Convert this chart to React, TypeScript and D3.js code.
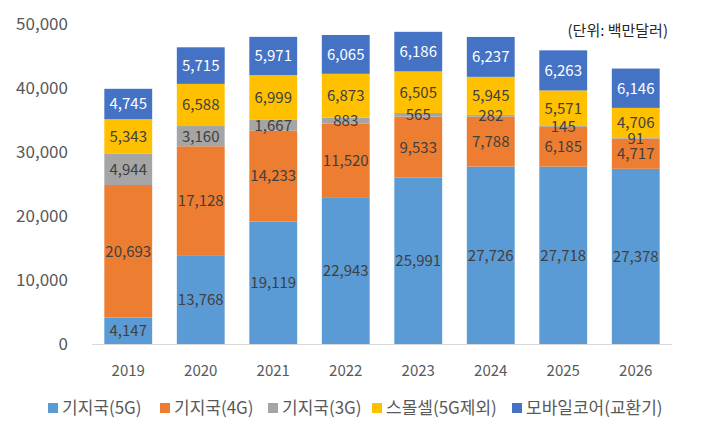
import React from 'react';
import * as d3 from 'd3';

const years = ['2019', '2020', '2021', '2022', '2023', '2024', '2025', '2026'];
const bs5g = [4147, 13768, 19119, 22943, 25991, 27726, 27718, 27378];
const bs4g = [20693, 17128, 14233, 11520, 9533, 7788, 6185, 4717];
const bs3g = [4944, 3160, 1667, 883, 565, 282, 145, 91];
const smallCell = [5343, 6588, 6999, 6873, 6505, 5945, 5571, 4706];
const mobileCore = [4745, 5715, 5971, 6065, 6186, 6237, 6263, 6146];
const yTicks = [0, 10000, 20000, 30000, 40000, 50000];

const SERIES = [
  { name: '기지국(5G)', values: bs5g, color: '#5B9BD5', text: '#404040' },
  { name: '기지국(4G)', values: bs4g, color: '#ED7D31', text: '#404040' },
  { name: '기지국(3G)', values: bs3g, color: '#A5A5A5', text: '#404040' },
  { name: '스몰셀(5G제외)', values: smallCell, color: '#FFC000', text: '#404040' },
  { name: '모바일코어(교환기)', values: mobileCore, color: '#4472C4', text: '#FFFFFF' },
];

const FONT = '"Noto Sans CJK KR", "Noto Sans", sans-serif';

export default function App() {
  const width = 704;
  const height = 430;
  const left = 92;
  const right = 672;
  const top = 24;
  const bottom = 344;

  const x = d3.scaleBand<string>().domain(years).range([left, right]).paddingInner(0.34).paddingOuter(0.17);
  const y = d3.scaleLinear().domain([0, 50000]).range([bottom, top]);
  const fmt = d3.format(',');

  const rows = years.map((yr, i) => {
    const r: Record<string, number | string> = { year: yr };
    SERIES.forEach((s) => (r[s.name] = s.values[i]));
    return r;
  });
  const stacked = d3.stack<Record<string, number | string>>().keys(SERIES.map((s) => s.name))(rows as any);

  // legend layout
  const legendX = [48, 160, 268, 372, 512];

  return (
    <svg width={width} height={height} style={{ position: 'absolute', left: 0, top: 0, fontFamily: FONT }}>
      <rect width={width} height={height} fill="#fff" />
      {yTicks.map((t) => (
        <text key={t} x={68} y={y(t)} dy="0.36em" textAnchor="end" fontSize={17} fill="#595959">
          {fmt(t)}
        </text>
      ))}
      {stacked.map((layer, si) => (
        <g key={SERIES[si].name}>
          {layer.map((d, i) => (
            <rect
              key={years[i]}
              x={x(years[i])!}
              y={y(d[1])}
              width={x.bandwidth()}
              height={y(d[0]) - y(d[1])}
              fill={SERIES[si].color}
            />
          ))}
        </g>
      ))}
      {stacked.map((layer, si) => (
        <g key={'l' + SERIES[si].name}>
          {layer.map((d, i) => (
            <text
              key={years[i]}
              x={x(years[i])! + x.bandwidth() / 2}
              y={y((d[0] + d[1]) / 2)}
              dy="0.36em"
              textAnchor="middle"
              fontSize={15}
              fill={SERIES[si].text}
            >
              {fmt(SERIES[si].values[i])}
            </text>
          ))}
        </g>
      ))}
      <line x1={left} x2={right} y1={bottom + 0.5} y2={bottom + 0.5} stroke="#D9D9D9" strokeWidth={1} />
      {years.map((yr) => (
        <text key={yr} x={x(yr)! + x.bandwidth() / 2} y={371} dy="0.36em" textAnchor="middle" fontSize={15} fill="#595959">
          {yr}
        </text>
      ))}
      <text x={668} y={31} dy="0.36em" textAnchor="end" fontSize={15} fill="#262626">
        (단위: 백만달러)
      </text>
      {SERIES.map((s, i) => (
        <g key={'lg' + s.name} transform={`translate(${legendX[i]},408)`}>
          <rect x={0} y={-5} width={10} height={10} fill={s.color} />
          <text x={14} y={0} dy="0.36em" fontSize={17} fill="#595959">
            {s.name}
          </text>
        </g>
      ))}
    </svg>
  );
}
